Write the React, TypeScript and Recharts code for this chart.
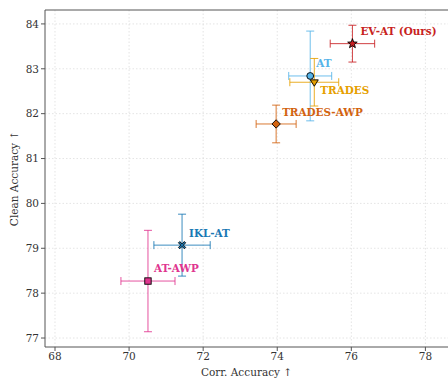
import React from 'react';
import {
  ScatterChart, Scatter, XAxis, YAxis, CartesianGrid, ErrorBar, ReferenceLine,
} from 'recharts';

// Robustness vs. clean accuracy for adversarial training methods (mean ± std)
const methods = ['EV-AT (Ours)', 'AT', 'TRADES', 'TRADES-AWP', 'IKL-AT', 'AT-AWP'];
const corrAcc = [76.03, 74.89, 75.0, 73.97, 71.43, 70.51];
const corrStd = [0.6, 0.58, 0.66, 0.54, 0.76, 0.73];
const cleanAcc = [83.56, 82.84, 82.7, 81.77, 79.07, 78.27];
const cleanStd = [0.41, 1.0, 0.53, 0.42, 0.69, 1.13];

const xTicks = [68, 70, 72, 74, 76, 78];
const yTicks = [77, 78, 79, 80, 81, 82, 83, 84];

type Style = { color: string; marker: string; dx: number; dy: number };
const styles: Style[] = [
  { color: '#c81f22', marker: 'star', dx: 8, dy: -13 },
  { color: '#56b4e9', marker: 'circle', dx: 6, dy: -13 },
  { color: '#e6a000', marker: 'tri', dx: 6, dy: 8 },
  { color: '#d2630f', marker: 'diamond', dx: 6, dy: -12 },
  { color: '#1a78b4', marker: 'x', dx: 7, dy: -12 },
  { color: '#e0358f', marker: 'square', dx: 6, dy: -13 },
];

const FONT = '"DejaVu Serif", serif';

function Marker({ kind, cx, cy, fill }: { kind: string; cx: number; cy: number; fill: string }) {
  const sw = 0.9;
  const st = '#000';
  if (kind === 'circle') return <circle cx={cx} cy={cy} r={3.4} fill={fill} stroke={st} strokeWidth={sw} />;
  if (kind === 'square') return <rect x={cx - 3.2} y={cy - 3.2} width={6.4} height={6.4} fill={fill} stroke={st} strokeWidth={sw} />;
  if (kind === 'diamond') {
    const r = 4.2;
    return <polygon points={`${cx},${cy - r} ${cx + r},${cy} ${cx},${cy + r} ${cx - r},${cy}`} fill={fill} stroke={st} strokeWidth={sw} />;
  }
  if (kind === 'tri') {
    const r = 4;
    return <polygon points={`${cx - r},${cy - r * 0.6} ${cx + r},${cy - r * 0.6} ${cx},${cy + r}`} fill={fill} stroke={st} strokeWidth={sw} />;
  }
  if (kind === 'star') {
    const pts: string[] = [];
    for (let i = 0; i < 10; i++) {
      const rad = i % 2 === 0 ? 5 : 2.1;
      const a = -Math.PI / 2 + (i * Math.PI) / 5;
      pts.push(`${cx + rad * Math.cos(a)},${cy + rad * Math.sin(a)}`);
    }
    return <polygon points={pts.join(' ')} fill={fill} stroke={st} strokeWidth={sw} />;
  }
  // filled "x" marker
  const a = 3.6, w = 1.3;
  const p = [
    [-a, -a + w], [-a + w, -a], [0, -w], [a - w, -a], [a, -a + w], [w, 0],
    [a, a - w], [a - w, a], [0, w], [-a + w, a], [-a, a - w], [-w, 0],
  ].map(([x, y]) => `${cx + x},${cy + y}`).join(' ');
  return <polygon points={p} fill={fill} stroke={st} strokeWidth={sw} />;
}

export default function App() {
  return (
    <div style={{ position: 'absolute', left: 0, top: 0, width: 448, height: 381, background: '#fff' }}>
      <ScatterChart width={448} height={381} margin={{ top: 10, right: 0, bottom: 0, left: 0 }}>
        <CartesianGrid stroke="#d9d9d9" strokeDasharray="1.5 2" strokeWidth={0.7} horizontalValues={yTicks} verticalValues={xTicks} />
        <XAxis
          type="number"
          dataKey="x"
          domain={[67.73, 78.61]}
          ticks={xTicks}
          allowDataOverflow
          height={34}
          stroke="#555"
          tick={{ fill: '#333', fontSize: 10.5, fontFamily: FONT }}
          tickSize={4}
          label={{ value: 'Corr. Accuracy ↑', position: 'insideBottom', offset: 5, fill: '#333', fontSize: 10.5, fontFamily: FONT }}
        />
        <YAxis
          type="number"
          dataKey="y"
          domain={[76.8, 84.31]}
          ticks={yTicks}
          allowDataOverflow
          width={45}
          stroke="#555"
          tick={{ fill: '#333', fontSize: 10.5, fontFamily: FONT }}
          tickSize={4}
          label={{ value: 'Clean Accuracy ↑', angle: -90, position: 'insideLeft', offset: 14, style: { textAnchor: 'middle' }, fill: '#333', fontSize: 10.5, fontFamily: FONT }}
        />
        <ReferenceLine y={84.31} stroke="#555" strokeWidth={1} ifOverflow="extendDomain" />
        {methods.map((name, i) => {
          const s = styles[i];
          const data = [{ x: corrAcc[i], y: cleanAcc[i], ex: corrStd[i], ey: cleanStd[i], name }];
          return (
            <Scatter
              key={name}
              data={data}
              isAnimationActive={false}
              shape={(props: any) => (
                <g>
                  <Marker kind={s.marker} cx={props.cx} cy={props.cy} fill={s.color} />
                  <text
                    x={props.cx + s.dx}
                    y={props.cy + s.dy}
                    dominantBaseline="central"
                    fill={s.color}
                    fontSize={10.4}
                    fontWeight="bold"
                    fontFamily={FONT}
                  >
                    {name}
                  </text>
                </g>
              )}
            >
              <ErrorBar dataKey="ex" direction="x" stroke={s.color} strokeWidth={1} width={4} strokeOpacity={0.85} />
              <ErrorBar dataKey="ey" direction="y" stroke={s.color} strokeWidth={1} width={4} strokeOpacity={0.85} />
            </Scatter>
          );
        })}
      </ScatterChart>
    </div>
  );
}
